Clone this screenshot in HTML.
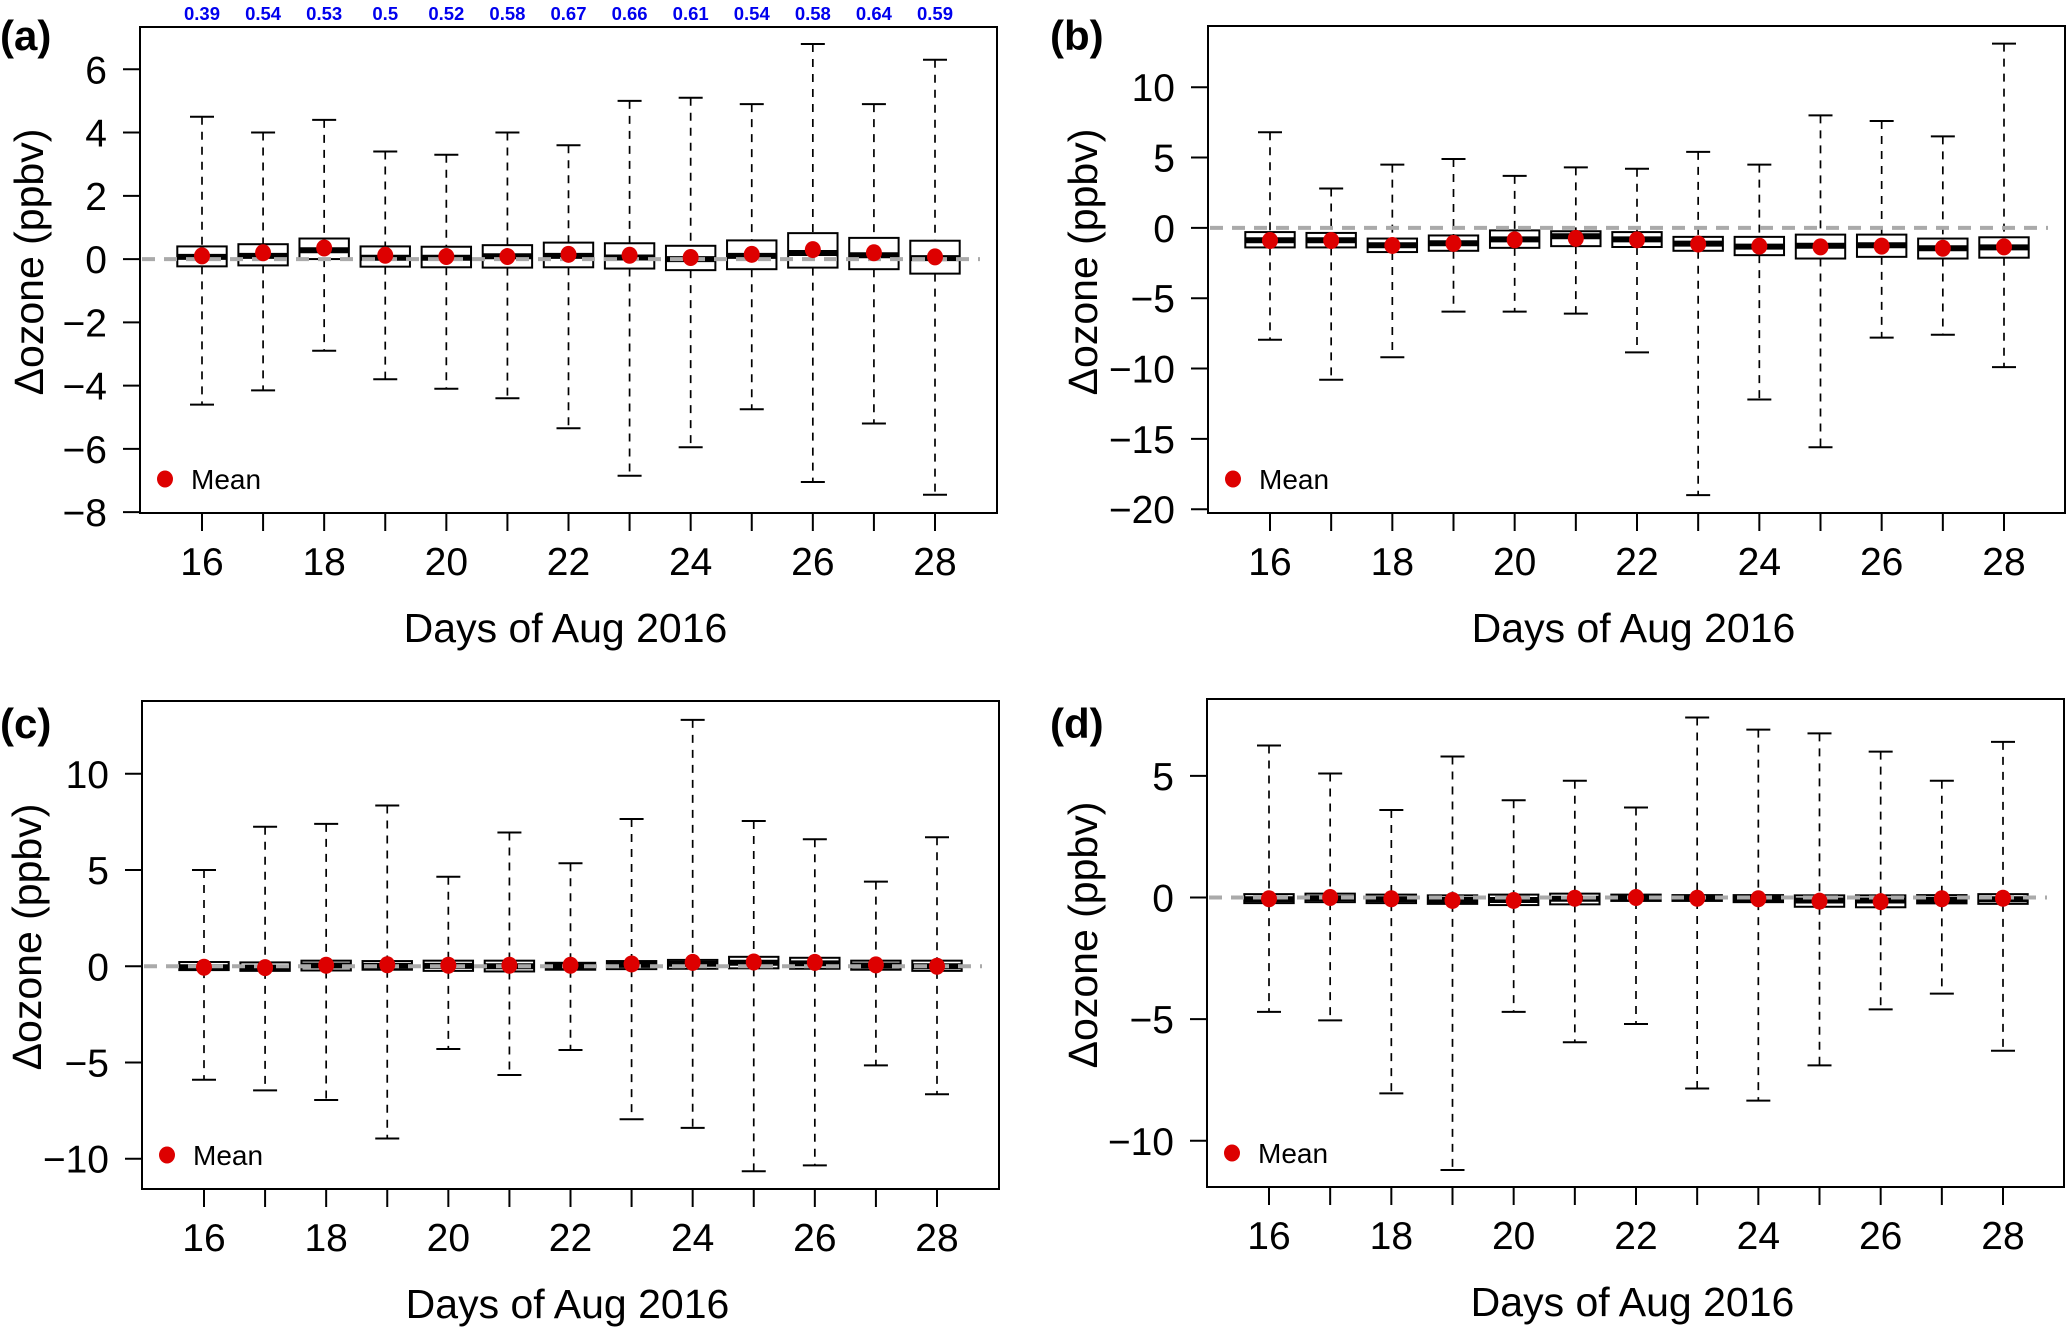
<!DOCTYPE html>
<html><head><meta charset="utf-8"><title>Δozone boxplots</title>
<style>
html,body{margin:0;padding:0;background:#fff;}
svg{display:block;font-family:"Liberation Sans",Arial,sans-serif;}
</style></head>
<body>
<svg id="chart" width="2067" height="1334" viewBox="0 0 2067 1334" xmlns="http://www.w3.org/2000/svg"></svg>
<script>
const days = [16,17,18,19,20,21,22,23,24,25,26,27,28];
const dayTicks = [16,18,20,22,24,26,28];
const corrLabels = ["0.39","0.54","0.53","0.5","0.52","0.58","0.67","0.66","0.61","0.54","0.58","0.64","0.59"];

// Panel (a)
const aHigh = [4.5,4.0,4.4,3.4,3.3,4.0,3.6,5.0,5.1,4.9,6.8,4.9,6.3];
const aLow  = [-4.6,-4.15,-2.9,-3.8,-4.1,-4.4,-5.35,-6.85,-5.95,-4.75,-7.05,-5.2,-7.45];
const aQ3   = [0.40,0.47,0.65,0.40,0.39,0.44,0.52,0.50,0.42,0.59,0.82,0.67,0.58];
const aQ1   = [-0.23,-0.2,0.0,-0.24,-0.26,-0.27,-0.26,-0.3,-0.35,-0.32,-0.27,-0.32,-0.46];
const aMed  = [0.07,0.1,0.28,0.04,0.04,0.09,0.1,0.05,0.0,0.1,0.19,0.12,0.03];
const aMean = [0.1,0.2,0.35,0.12,0.08,0.08,0.15,0.12,0.05,0.15,0.3,0.2,0.07];
const aTicks = [6,4,2,0,-2,-4,-6,-8];

// Panel (b)
const bHigh = [6.8,2.8,4.5,4.9,3.7,4.3,4.2,5.4,4.5,8.0,7.6,6.5,13.1];
const bLow  = [-7.95,-10.8,-9.2,-5.95,-5.95,-6.1,-8.85,-19.0,-12.2,-15.6,-7.8,-7.6,-9.9];
const bQ3   = [-0.3,-0.36,-0.76,-0.54,-0.18,-0.24,-0.3,-0.64,-0.64,-0.48,-0.48,-0.76,-0.67];
const bQ1   = [-1.39,-1.39,-1.72,-1.63,-1.42,-1.3,-1.36,-1.63,-1.94,-2.18,-2.06,-2.18,-2.12];
const bMed  = [-0.88,-0.88,-1.24,-1.09,-0.82,-0.6,-0.82,-1.12,-1.33,-1.27,-1.24,-1.45,-1.39];
const bMean = [-0.9,-0.9,-1.25,-1.1,-0.85,-0.75,-0.85,-1.15,-1.3,-1.35,-1.3,-1.45,-1.35];
const bTicks = [10,5,0,-5,-10,-15,-20];

// Panel (c)
const cHigh = [5.0,7.25,7.4,8.35,4.65,6.95,5.35,7.65,12.8,7.55,6.6,4.4,6.7];
const cLow  = [-5.9,-6.45,-6.95,-8.95,-4.3,-5.65,-4.35,-7.95,-8.4,-10.65,-10.35,-5.15,-6.65];
const cQ3   = [0.22,0.2,0.29,0.27,0.29,0.29,0.18,0.27,0.33,0.49,0.44,0.29,0.29];
const cQ1   = [-0.2,-0.24,-0.22,-0.18,-0.24,-0.27,-0.18,-0.15,-0.13,-0.11,-0.13,-0.18,-0.24];
const cMed  = [-0.05,-0.07,0.04,0.02,0.02,0.0,0.0,0.07,0.13,0.18,0.15,0.04,0.0];
const cMean = [-0.05,-0.07,0.05,0.08,0.05,0.05,0.05,0.12,0.2,0.22,0.2,0.07,0.0];
const cTicks = [10,5,0,-5,-10];

// Panel (d)
const dHigh = [6.25,5.1,3.6,5.8,4.0,4.8,3.7,7.4,6.9,6.75,6.0,4.8,6.4];
const dLow  = [-4.7,-5.05,-8.05,-11.2,-4.7,-5.95,-5.2,-7.85,-8.35,-6.9,-4.6,-3.95,-6.3];
const dQ3   = [0.14,0.16,0.12,0.09,0.12,0.16,0.12,0.1,0.1,0.09,0.09,0.1,0.14];
const dQ1   = [-0.23,-0.19,-0.23,-0.26,-0.31,-0.28,-0.14,-0.14,-0.19,-0.38,-0.4,-0.24,-0.26];
const dMed  = [-0.07,-0.03,-0.07,-0.1,-0.1,-0.05,-0.02,-0.03,-0.05,-0.12,-0.12,-0.09,-0.07];
const dMean = [-0.05,0.0,-0.05,-0.12,-0.12,-0.03,0.0,-0.03,-0.05,-0.15,-0.17,-0.05,-0.03];
const dTicks = [5,0,-5,-10];

const NS = "http://www.w3.org/2000/svg";
const svg = document.getElementById("chart");
function mk(tag, attrs, parent, text){
  const e = document.createElementNS(NS, tag);
  for (const k in attrs) e.setAttribute(k, attrs[k]);
  if (text !== undefined) e.textContent = text;
  (parent || svg).appendChild(e);
  return e;
}
function fmt(v){ return v < 0 ? "\u2212" + Math.abs(v) : String(v); }

function panel(cfg){
  const g = mk("g", {});
  
  
  const xs = d => cfg.x16 + (d - 16) * (cfg.x28 - cfg.x16) / 12;
  const ys = v => cfg.yA + (v - cfg.vA) * (cfg.yB - cfg.yA) / (cfg.vB - cfg.vA);

  const box = mk("rect", {x:cfg.L, y:cfg.T, width:cfg.R-cfg.L, height:cfg.B-cfg.T, fill:"none", stroke:"#000", "stroke-width":2}, g);
  
  

  cfg.yticks.forEach(t => {
    const y = ys(t);
    const tk = mk("line", {x1:cfg.L-17, x2:cfg.L, y1:y, y2:y, stroke:"#000", "stroke-width":2}, g);
    
    
    const tl = mk("text", {x:cfg.L-33, y:y+14, "text-anchor":"end", "font-size":39, fill:"#000"}, g, fmt(t));
    
    
  });
  days.forEach(d => {
    const x = xs(d);
    const tk = mk("line", {x1:x, x2:x, y1:cfg.B, y2:cfg.B+18, stroke:"#000", "stroke-width":2}, g);
    
    
  });
  dayTicks.forEach(d => {
    const tl = mk("text", {x:xs(d), y:cfg.B+62, "text-anchor":"middle", "font-size":39, fill:"#000"}, g, String(d));
    
    
  });

  const hw = 24.7, cw = 12;
  days.forEach((d, i) => {
    const x = xs(d);
    const bg = mk("g", {}, g);
    
    
    mk("line", {x1:x, x2:x, y1:ys(cfg.high[i]), y2:ys(cfg.q3[i]), stroke:"#000", "stroke-width":1.7, "stroke-dasharray":"8,7"}, bg);
    mk("line", {x1:x, x2:x, y1:ys(cfg.q1[i]), y2:ys(cfg.low[i]), stroke:"#000", "stroke-width":1.7, "stroke-dasharray":"8,7"}, bg);
    mk("line", {x1:x-cw, x2:x+cw, y1:ys(cfg.high[i]), y2:ys(cfg.high[i]), stroke:"#000", "stroke-width":2}, bg);
    mk("line", {x1:x-cw, x2:x+cw, y1:ys(cfg.low[i]), y2:ys(cfg.low[i]), stroke:"#000", "stroke-width":2}, bg);
    mk("rect", {x:x-hw, y:ys(cfg.q3[i]), width:2*hw, height:ys(cfg.q1[i])-ys(cfg.q3[i]), fill:"#fff", stroke:"#000", "stroke-width":2}, bg);
    mk("line", {x1:x-hw, x2:x+hw, y1:ys(cfg.med[i]), y2:ys(cfg.med[i]), stroke:"#000", "stroke-width":6}, bg);
  });

  const zl = mk("line", {x1:cfg.L+2, x2:cfg.R-17, y1:ys(0), y2:ys(0), stroke:"#aaaaaa", "stroke-width":4, "stroke-dasharray":"13,9"}, g);
  
  

  days.forEach((d, i) => {
    const m = mk("ellipse", {cx:xs(d), cy:ys(cfg.mean[i]), rx:8, ry:8.5, fill:"#dd0000"}, g);
    
    
  });

  const lg = mk("g", {}, g);
  
  
  mk("ellipse", {cx:cfg.L+25, cy:cfg.B-34, rx:8, ry:8.5, fill:"#dd0000"}, lg);
  mk("text", {x:cfg.L+51, y:cfg.B-24, "font-size":28, fill:"#000"}, lg, "Mean");

  const xt = mk("text", {x:(cfg.L+cfg.R)/2 - 3, y:cfg.B+129, "text-anchor":"middle", "font-size":41, fill:"#000"}, g, "Days of Aug 2016");
  
  
  const yt = mk("text", {x:0, y:0, "text-anchor":"middle", "font-size":41, fill:"#000", transform:`translate(${cfg.ytx},${cfg.yty}) rotate(-90)`}, g, "\u0394ozone (ppbv)");
  
  

  const pl = mk("text", {x:cfg.plx, y:cfg.ply, "font-size":42, "font-weight":"bold", fill:"#000"}, g, "(" + cfg.id + ")");
  
  

  if (cfg.corr){
    days.forEach((d, i) => {
      const t = mk("text", {x:xs(d), y:20, "text-anchor":"middle", "font-size":18.5, "font-weight":"bold", fill:"#0000ee"}, g, cfg.corr[i]);
      
      
    });
  }
}

panel({id:"a", L:140, R:997, T:27, B:513, x16:202, x28:935, vA:6, yA:69.3, vB:-8, yB:512.1,
  high:aHigh, low:aLow, q3:aQ3, q1:aQ1, med:aMed, mean:aMean, yticks:aTicks,
  ytx:43, yty:262, plx:0, ply:50, corr:corrLabels});
panel({id:"b", L:1208, R:2065, T:26, B:513, x16:1270, x28:2004, vA:10, yA:87.2, vB:-20, yB:509.2,
  high:bHigh, low:bLow, q3:bQ3, q1:bQ1, med:bMed, mean:bMean, yticks:bTicks,
  ytx:1097, yty:262, plx:1050, ply:50});
panel({id:"c", L:142, R:999, T:701, B:1189, x16:204, x28:937, vA:10, yA:773.8, vB:-10, yB:1158.7,
  high:cHigh, low:cLow, q3:cQ3, q1:cQ1, med:cMed, mean:cMean, yticks:cTicks,
  ytx:41, yty:937, plx:0, ply:738});
panel({id:"d", L:1207, R:2064, T:699, B:1187, x16:1269, x28:2003, vA:5, yA:775.9, vB:-10, yB:1140.8,
  high:dHigh, low:dLow, q3:dQ3, q1:dQ1, med:dMed, mean:dMean, yticks:dTicks,
  ytx:1097, yty:935, plx:1050, ply:738});
</script>
</body></html>
